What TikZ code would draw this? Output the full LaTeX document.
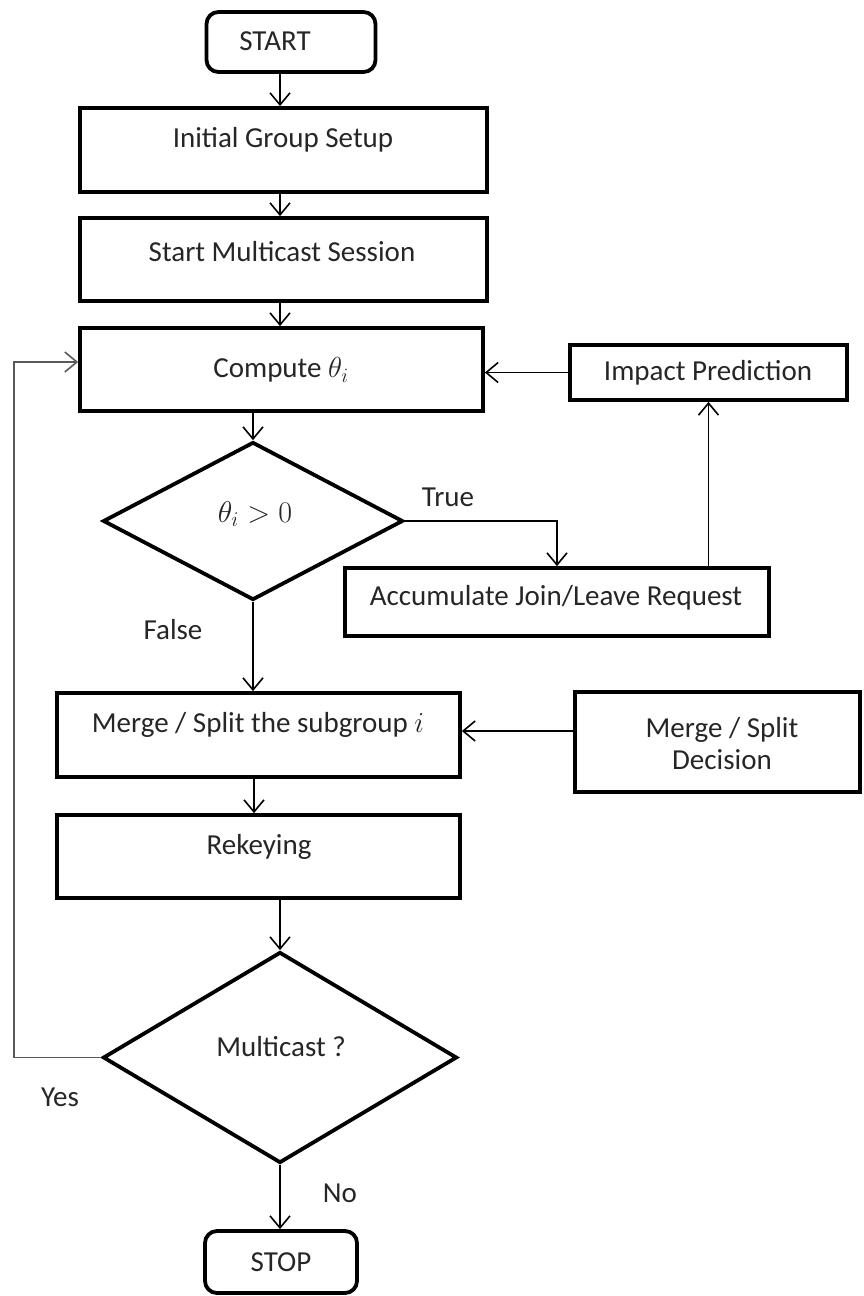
\RequirePackage{fix-cm}
\documentclass[tikz,border=0pt]{standalone}
\usepackage{fontspec}
\setmainfont{Carlito}
\usetikzlibrary{shapes.geometric,arrows.meta,calc}
\begin{document}
\begin{tikzpicture}[x=1pt,y=-1pt,
  every node/.style={font=\fontsize{29}{34}\selectfont},
  box/.style={draw, line width=3.8pt, rectangle, inner sep=0pt},
  term/.style={box, rounded corners=12pt},
  dia/.style={draw, line width=3.8pt, diamond, inner sep=0pt},
  txt/.style={inner sep=0pt, text=black!85},
  mathtxt/.style={txt, font=\fontsize{30}{36}\selectfont},
  arr/.style={line width=1.6pt, -{Straight Barb[length=12pt,width=20pt,line width=1.6pt]}},
  loopline/.style={line width=1.8pt, draw=black!65, -{Straight Barb[length=12pt,width=20pt,line width=1.6pt]}}]
\useasboundingbox (0,0) rectangle (863,1296);

% boxes
\node[term, minimum width=169pt, minimum height=60pt] (start) at (291,42) {};
\node[txt] (startT) at (275,41) {START};
\node[box, minimum width=407pt, minimum height=84pt] (init) at (283.5,150) {};
\node[txt] (initT) at (283,140) {Initial Group Setup};
\node[box, minimum width=407pt, minimum height=83pt] (sess) at (283.5,259.5) {};
\node[txt] (sessT) at (282,252) {Start Multicast Session};
\node[box, minimum width=403pt, minimum height=83pt] (comp) at (281.5,369.5) {};
\node[txt] (compT) at (281,370) {Compute $\theta_i$};
\node[box, minimum width=277pt, minimum height=55pt] (impact) at (708.5,372.5) {};
\node[txt] (impactT) at (708,373) {Impact Prediction};
\node[dia, minimum width=300pt, minimum height=158pt] (dec1) at (253,521) {};
\node[mathtxt] (dec1T) at (255,514) {$\theta_i > 0$};
\node[box, minimum width=424pt, minimum height=68pt] (accum) at (557,602) {};
\node[txt] (accumT) at (556,598) {Accumulate Join/Leave Request};
\node[box, minimum width=403pt, minimum height=84pt] (merge) at (258.5,735) {};
\node[txt] (mergeT) at (258,725) {Merge / Split the subgroup $i$};
\node[box, minimum width=285pt, minimum height=100pt] (decis) at (717.5,742) {};
\node[txt, align=center] (decisT) at (722,744) {Merge / Split\\[-2pt]Decision};
\node[box, minimum width=403pt, minimum height=83pt] (rekey) at (258.5,856.5) {};
\node[txt] (rekeyT) at (259,847) {Rekeying};
\node[dia, minimum width=354pt, minimum height=211pt] (dec2) at (280,1057.5) {};
\node[txt] (dec2T) at (281,1047) {Multicast ?};
\node[term, minimum width=152pt, minimum height=62pt] (stop) at (281,1262) {};
\node[txt] (stopT) at (281,1262) {STOP};

% labels
\node[txt] (trueL) at (448,497) {True};
\node[txt] (falseL) at (173,630) {False};
\node[txt] (yesL) at (60,1097) {Yes};
\node[txt] (noL) at (340,1193) {No};

% connectors
\draw[arr] (start.south -| 280,0) -- (280,0 |- init.north);
\draw[arr] (init.south -| 280,0) -- (280,0 |- sess.north);
\draw[arr] (sess.south -| 280,0) -- (280,0 |- comp.north);
\draw[arr] (comp.south -| dec1.north) -- (dec1.north);
\draw[arr] (dec1.east) -| (accum.north);
\draw[arr] (accum.north -| impact.south) -- (impact.south);
\draw[arr] (impact.west) -- (impact.west -| comp.east);
\draw[arr] (dec1.south) -- (dec1.south |- merge.north);
\draw[arr] ([yshift=11pt]decis.west) -- ([yshift=11pt]decis.west -| merge.east);
\draw[arr] (merge.south -| 254,0) -- (254,0 |- rekey.north);
\draw[arr] (rekey.south -| dec2.north) -- (dec2.north);
\coordinate (loopT) at (14,362);
\draw[loopline] (dec2.west) -| (loopT) -- (loopT -| comp.west);
\draw[arr] (dec2.south) -- (dec2.south |- stop.north);
\end{tikzpicture}
\end{document}
